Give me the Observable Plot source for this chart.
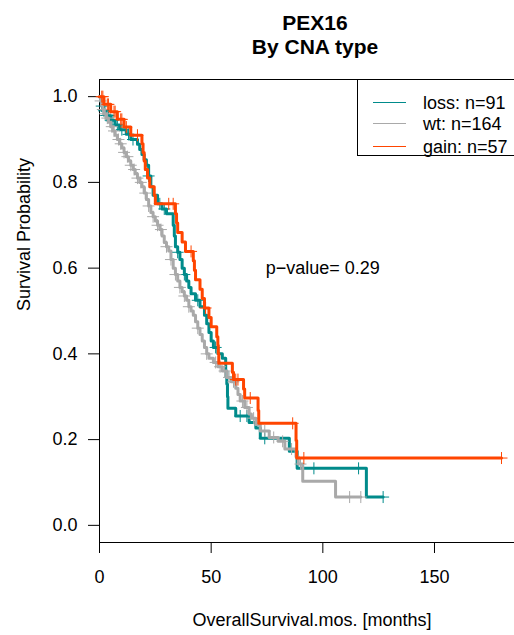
<!DOCTYPE html>
<html><head><meta charset="utf-8">
<script src="https://cdn.jsdelivr.net/npm/d3@7"></script>
<script src="https://cdn.jsdelivr.net/npm/@observablehq/plot@0.6"></script>
<style>
body{margin:0;overflow:hidden;background:#fff;font-family:"Liberation Sans",Arial,sans-serif;}
#wrap{position:relative;width:514px;height:635px;overflow:hidden;}
#legend{position:absolute;left:357px;top:79px;width:200px;height:77px;border:1px solid #000;box-sizing:border-box;background:#fff;}
#legend .ln{position:absolute;left:15px;width:33px;height:0;border-top:1px solid;}
#legend .tx{position:absolute;left:65px;font-size:18px;line-height:18px;color:#000;white-space:nowrap;}
</style></head>
<body><div id="wrap"></div>
<script>
// ---- data ----
const groups = ["loss", "wt", "gain"];
const counts = [91, 164, 57];
const colors = ["#008B8B", "#A9A9A9", "#FF4500"];

// loss: event times (months) and survival after each event
const lossT = [0,0.5,1,2,3,5,7,9,12,14,17,18,19,20,21,22,23,24,26,28,30,33,33.5,34,35,36,37,38,39,40,41,43,45,47,48,49,50,51,53,55,56.5,57,57.3,57.5,61,67,70,72,85,88.5,119.5];
const lossS = [1,0.989,0.978,0.967,0.956,0.945,0.934,0.923,0.912,0.90,0.889,0.877,0.865,0.853,0.84,0.815,0.79,0.77,0.75,0.738,0.727,0.70,0.675,0.65,0.637,0.62,0.60,0.585,0.57,0.555,0.54,0.525,0.51,0.49,0.47,0.45,0.43,0.415,0.40,0.39,0.36,0.33,0.30,0.273,0.255,0.24,0.227,0.203,0.173,0.133,0.066];
const lossCens = [1,2,3,4,5,6,8,10,13,15,22,27,29,35,38,44,52,63,66,74,96,116,127];

// wt
const wtT = [0,0.5,1,1.5,2,3,4,5,6,7,8,9,10,11,12,13,14,15,16,17,18,19,20,21,22,23,24,25,26,27,28,29,30,31,32,33,34,35,36,37,38,39,40,41,42,43,44,45,46,47,48,49,51,53,55,57,59,61,62,63,65,67,68,70,72,76,80,83,88,89,91,105.7];
const wtS = [1,0.99,0.98,0.97,0.96,0.95,0.94,0.93,0.92,0.91,0.90,0.89,0.88,0.87,0.86,0.85,0.84,0.83,0.82,0.81,0.80,0.79,0.775,0.76,0.745,0.73,0.72,0.71,0.70,0.69,0.675,0.66,0.65,0.64,0.62,0.60,0.585,0.57,0.555,0.545,0.535,0.525,0.51,0.50,0.49,0.475,0.46,0.445,0.43,0.415,0.40,0.39,0.38,0.37,0.36,0.345,0.335,0.32,0.305,0.29,0.275,0.26,0.25,0.235,0.22,0.205,0.196,0.178,0.16,0.143,0.103,0.066];
const wtCens = [0.5,1.5,2.5,3.5,5.5,6.5,8.5,9.5,11,12.5,14,15.5,17,18.5,20.5,22,24,26,27.5,30,32,34,36,38,40,44,48,52,54,56,58,60,64,66,69,74,78,82,86,90,112,117];

// gain
const gainT = [0,2,5,8,11,14,19,19.5,20,20.5,21.5,22.5,24.5,25,34,34.5,35,37,38.5,42,42.5,43,45,46,47,49,50,52.5,53,53.2,53.4,59.5,60,64.5,65,71,71.3,88,88.3];
const gainS = [1,0.982,0.965,0.947,0.929,0.91,0.89,0.87,0.85,0.83,0.81,0.79,0.77,0.75,0.727,0.705,0.683,0.661,0.639,0.617,0.595,0.573,0.551,0.529,0.507,0.485,0.463,0.44,0.42,0.40,0.378,0.357,0.34,0.318,0.297,0.268,0.238,0.198,0.157];
const gainCens = [1,1.5,3.5,4,6.5,7,9.5,10,12,17,31,33,41,47.5,61,62,67.5,86.5,91.5,180];

const xTicks = [0, 50, 100, 150];
const yTicks = [0, 0.2, 0.4, 0.6, 0.8, 1.0];
const title1 = "PEX16";
const title2 = "By CNA type";
const xLabel = "OverallSurvival.mos. [months]";
const yLabel = "Survival Probability";
const pText = "p\u2212value= 0.29";
const pPos = {t: 100, s: 0.6};

// ---- build tables ----
const series = [[lossT, lossS, lossCens], [wtT, wtS, wtCens], [gainT, gainS, gainCens]];
const lineRows = [], censRows = [];
series.forEach(([T, S, C], gi) => {
  const g = groups[gi];
  T.forEach((t, i) => lineRows.push({g, t, s: S[i]}));
  const end = Math.max(...C, T[T.length - 1]);
  lineRows.push({g, t: end, s: S[S.length - 1]});
  C.forEach(c => {
    let s = 1;
    for (let i = 0; i < T.length; i++) if (T[i] <= c) s = S[i];
    censRows.push({g, t: c, s});
  });
});

const plus = {draw(ctx, size) { const r = Math.sqrt(size / Math.PI); ctx.moveTo(-r, 0); ctx.lineTo(r, 0); ctx.moveTo(0, -r); ctx.lineTo(0, r); }};
const colorOf = g => colors[groups.indexOf(g)];

const marks = [Plot.frame({stroke: "#000", strokeWidth: 1})];
groups.forEach((g, gi) => {
  marks.push(Plot.line(lineRows.filter(d => d.g === g), {x: "t", y: "s", curve: "step-after", stroke: colors[gi], strokeWidth: 3}));
  marks.push(Plot.dot(censRows.filter(d => d.g === g), {x: "t", y: "s", symbol: plus, r: 6, stroke: colors[gi], fill: "none", strokeWidth: 1}));
});
marks.push(
  Plot.text([pText], {x: () => pPos.t, y: () => pPos.s, text: d => d, fontSize: 18, fill: "#000"}),
  Plot.text([title1], {frameAnchor: "top", dx: 3, dy: -50, lineAnchor: "bottom", text: d => d, fontSize: 21, fontWeight: "bold", fill: "#000"}),
  Plot.text([title2], {frameAnchor: "top", dx: 3, dy: -26, lineAnchor: "bottom", text: d => d, fontSize: 21, fontWeight: "bold", fill: "#000"}),
  Plot.text([xLabel], {frameAnchor: "bottom", dy: 83, lineAnchor: "bottom", text: d => d, fontSize: 18, fill: "#000"}),
  Plot.text([yLabel], {frameAnchor: "left", dx: -75, rotate: -90, text: d => d, fontSize: 18, fill: "#000"})
);

const chart = Plot.plot({
  width: 514, height: 635,
  marginLeft: 99, marginRight: -10, marginTop: 79, marginBottom: 93,
  style: {fontFamily: "Liberation Sans, Arial, sans-serif", fontSize: "18px", color: "#000", background: "#fff", overflow: "visible"},
  x: {domain: [0, 190.3], ticks: xTicks, tickSize: 11, tickPadding: 17, label: null},
  y: {domain: [-0.04, 1.04], ticks: yTicks, tickFormat: d => d.toFixed(1), tickSize: 11, tickPadding: 11, label: null},
  marks
});
const wrap = document.getElementById("wrap");
wrap.appendChild(chart);

// legend
const leg = document.createElement("div");
leg.id = "legend";
const rowY = [23, 44, 67];
groups.forEach((g, i) => {
  const ln = document.createElement("div");
  ln.className = "ln"; ln.style.top = (rowY[i] - 1) + "px"; ln.style.borderColor = colors[i];
  const tx = document.createElement("div");
  tx.className = "tx"; tx.style.top = (rowY[i] - 9) + "px"; tx.textContent = `${g}: n=${counts[i]}`;
  leg.appendChild(ln); leg.appendChild(tx);
});
wrap.appendChild(leg);
</script></body></html>
